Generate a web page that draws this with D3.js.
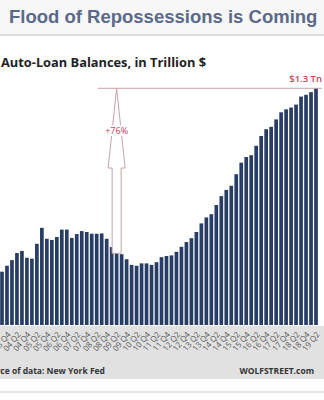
<!DOCTYPE html>
<html>
<head>
<meta charset="utf-8">
<script src="https://cdn.jsdelivr.net/npm/d3@7"></script>
<style>
  body { margin: 0; background: #fff; }
  svg { display: block; }
</style>
</head>
<body>
<div id="chart"></div>
<script>
const width = 324;
const height = 400;

// quarters visible in the crop, 2003Q3 .. 2019Q2
const quarters = [
  "03 Q3","03 Q4",
  "04 Q1","04 Q2","04 Q3","04 Q4",
  "05 Q1","05 Q2","05 Q3","05 Q4",
  "06 Q1","06 Q2","06 Q3","06 Q4",
  "07 Q1","07 Q2","07 Q3","07 Q4",
  "08 Q1","08 Q2","08 Q3","08 Q4",
  "09 Q1","09 Q2","09 Q3","09 Q4",
  "10 Q1","10 Q2","10 Q3","10 Q4",
  "11 Q1","11 Q2","11 Q3","11 Q4",
  "12 Q1","12 Q2","12 Q3","12 Q4",
  "13 Q1","13 Q2","13 Q3","13 Q4",
  "14 Q1","14 Q2","14 Q3","14 Q4",
  "15 Q1","15 Q2","15 Q3","15 Q4",
  "16 Q1","16 Q2","16 Q3","16 Q4",
  "17 Q1","17 Q2","17 Q3","17 Q4",
  "18 Q1","18 Q2","18 Q3","18 Q4",
  "19 Q1","19 Q2"
];

// auto-loan balances, trillion $
const balances = [
  0.680, 0.700,
  0.719, 0.743, 0.750, 0.727,
  0.724, 0.774, 0.828, 0.791,
  0.787, 0.797, 0.822, 0.822,
  0.794, 0.807, 0.817, 0.814,
  0.808, 0.808, 0.809, 0.791,
  0.763, 0.742, 0.739, 0.722,
  0.703, 0.700, 0.708, 0.708,
  0.703, 0.712, 0.729, 0.733,
  0.735, 0.747, 0.764, 0.780,
  0.793, 0.814, 0.843, 0.863,
  0.874, 0.905, 0.935, 0.956,
  0.970, 1.009, 1.048, 1.067,
  1.073, 1.105, 1.138, 1.161,
  1.169, 1.194, 1.218, 1.228,
  1.234, 1.244, 1.271, 1.277,
  1.286, 1.299
];

// labels only every other quarter
const tickLabels = quarters.filter(q => q.endsWith("Q2") || q.endsWith("Q4"));

const peakLabel = "$1.3 Tn";
const changeLabel = "+76%";
const troughQuarter = "09 Q2";

const svg = d3.select("#chart").append("svg")
    .attr("width", width)
    .attr("height", height);

// page header
svg.append("rect").attr("x", 0).attr("y", 0).attr("width", width).attr("height", 34)
    .attr("fill", "#f7f7f7");
svg.append("rect").attr("x", 0).attr("y", 34).attr("width", width).attr("height", 2)
    .attr("fill", "#dcdcdc");
svg.append("text")
    .attr("x", 9).attr("y", 23)
    .attr("font-family", "Liberation Sans, Arial, sans-serif")
    .attr("font-weight", "bold")
    .attr("font-size", 18.5)
    .attr("fill", "#5b6a89")
    .text("Flood of Repossessions is Coming");

// bottom grey strip
svg.append("rect").attr("x", 0).attr("y", 326).attr("width", width).attr("height", 53)
    .attr("fill", "#e1e1e1");
svg.append("rect").attr("x", 0).attr("y", 391).attr("width", width).attr("height", 2)
    .attr("fill", "#e6e6e6");

var x = d3.scaleBand()
    .domain(quarters)
    .range([-0.5, 318.5])
    .paddingInner(0.26)
    .paddingOuter(0.13);

var y = d3.scaleLinear()
    .domain([0.5, 1.3])
    .range([325, 88]);

svg.append("text")
    .attr("x", 1).attr("y", 67)
    .attr("font-family", "Open Sans, sans-serif")
    .attr("font-weight", "bold")
    .attr("font-size", 12.5)
    .attr("fill", "#222")
    .attr("textLength", 205)
    .attr("lengthAdjust", "spacingAndGlyphs")
    .text("Auto-Loan Balances, in Trillion $");

// bars
svg.append("g")
    .selectAll("rect")
    .data(balances)
    .enter().append("rect")
    .attr("x", (d, i) => x(quarters[i]))
    .attr("width", x.bandwidth())
    .attr("y", d => y(d))
    .attr("height", d => y(0.5) - y(d))
    .attr("fill", "#283d66");

// peak reference line
const peak = d3.max(balances);
svg.append("line")
    .attr("x1", 98).attr("x2", 322)
    .attr("y1", y(peak)).attr("y2", y(peak))
    .attr("stroke", "#c9a2a6").attr("stroke-width", 1);

svg.append("text")
    .attr("x", 322).attr("y", 82)
    .attr("text-anchor", "end")
    .attr("font-family", "Open Sans, sans-serif")
    .attr("font-weight", 600)
    .attr("font-size", 9.5)
    .attr("fill", "#c94459")
    .text(peakLabel);

// +76% arrow from trough up to peak
const ax = x(troughQuarter) + x.bandwidth() / 2;
const ti = quarters.indexOf(troughQuarter);
const yBase = y(balances[ti]);
const yTip = y(peak);
const yHead = 168;
const arrowPts = [
  [ax, yTip], [ax + 8.5, yHead], [ax + 4.5, yHead], [ax + 4.5, yBase],
  [ax - 4.5, yBase], [ax - 4.5, yHead], [ax - 8.5, yHead]
];
svg.append("polygon")
    .attr("points", arrowPts.map(p => p.join(",")).join(" "))
    .attr("fill", "#fff")
    .attr("stroke", "#c9a2a6")
    .attr("stroke-width", 1);

svg.append("rect")
    .attr("x", ax - 13).attr("y", 125).attr("width", 26).attr("height", 11)
    .attr("fill", "#fff");
svg.append("text")
    .attr("x", ax).attr("y", 134)
    .attr("text-anchor", "middle")
    .attr("font-family", "Open Sans, sans-serif")
    .attr("font-size", 9)
    .attr("fill", "#c94459")
    .text(changeLabel);

// x axis labels, rotated
svg.append("g")
    .selectAll("text")
    .data(tickLabels)
    .enter().append("text")
    .attr("transform", d => "translate(" + (x(d) + x.bandwidth() / 2 + 2) + ",333) rotate(-50)")
    .attr("text-anchor", "end")
    .attr("dy", "0.35em")
    .attr("font-family", "Open Sans, sans-serif")
    .attr("font-size", 8)
    .attr("fill", "#555")
    .text(d => d);

// footer
svg.append("text")
    .attr("x", 105).attr("y", 374)
    .attr("text-anchor", "end")
    .attr("font-family", "Open Sans, sans-serif")
    .attr("font-weight", "bold")
    .attr("font-size", 8.5)
    .attr("fill", "#333")
    .text("Source of data: New York Fed");

svg.append("text")
    .attr("x", 314).attr("y", 374)
    .attr("text-anchor", "end")
    .attr("font-family", "Open Sans, sans-serif")
    .attr("font-weight", "bold")
    .attr("font-size", 8.5)
    .attr("fill", "#333")
    .text("WOLFSTREET.com");
</script>
</body>
</html>
